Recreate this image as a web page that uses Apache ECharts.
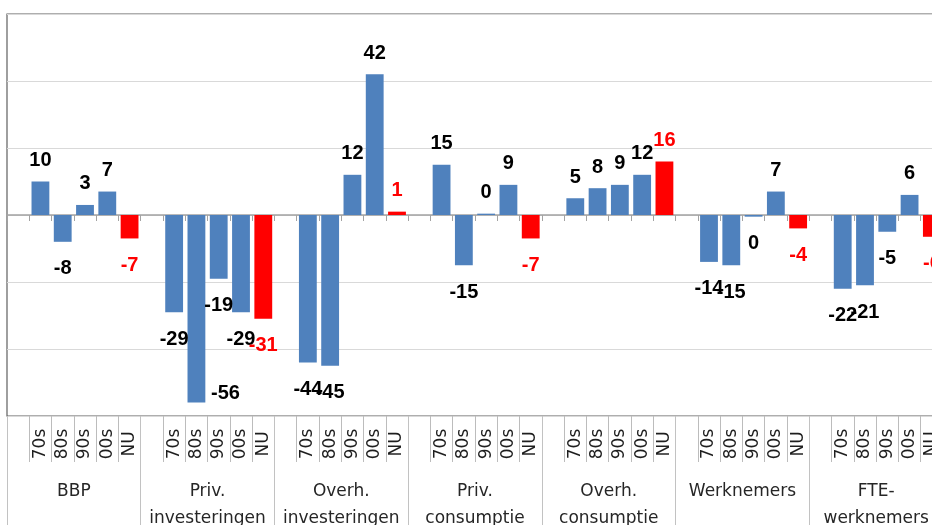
<!DOCTYPE html>
<html>
<head>
<meta charset="utf-8">
<title>Groei per decennium</title>
<script src="https://cdn.jsdelivr.net/npm/echarts@6/dist/echarts.min.js"></script>
<style>
  html, body { margin: 0; padding: 0; background: #fff; }
  #chart { width: 932px; height: 525px; }
</style>
</head>
<body>
<div id="chart"></div>
<script>
// categorieën
const groups = ['BBP', 'Priv.\ninvesteringen', 'Overh.\ninvesteringen', 'Priv.\nconsumptie', 'Overh.\nconsumptie', 'Werknemers', 'FTE-\nwerknemers']
const periods = ['70s', '80s', '90s', '00s', 'NU']

// waarden per groep: 70s, 80s, 90s, 00s, NU
const bbp = [10, -8, 3, 7, -7]
const privInvesteringen = [-29, -56, -19, -29, -31]
const overhInvesteringen = [-44, -45, 12, 42, 1]
const privConsumptie = [15, -15, 0.4, 9, -7]
const overhConsumptie = [5, 8, 9, 12, 16]
const werknemers = [-14, -15, -0.5, 7, -4]
const fteWerknemers = [-22, -21, -5, 6, -6.5]

const yTicks = [-60, -40, -20, 0, 20, 40, 60]

const BLUE = '#4f81bd'
const RED = '#ff0000'

const groupValues = [bbp, privInvesteringen, overhInvesteringen, privConsumptie, overhConsumptie, werknemers, fteWerknemers]

// elke groep begint met een lege kolom
const categories = []
const barData = []
groupValues.forEach((vals, g) => {
  categories.push('')
  barData.push('-')
  vals.forEach((v, i) => {
    const isNu = periods[i] === 'NU'
    categories.push(periods[i])
    const item = {
      value: v,
      itemStyle: { color: isNu ? RED : BLUE },
      label: {
        position: v < 0 ? 'bottom' : 'top',
        distance: v < 0 ? 17 : 11,
        color: isNu ? RED : '#000'
      }
    }
    // -56 past niet onder de balk, label schuift naar rechts
    if (g === 1 && i === 1) item.label.offset = [29, -36]
    barData.push(item)
  })
})

const chart = echarts.init(document.getElementById('chart'))

const catAxisBase = {
  type: 'category',
  gridIndex: 0,
  boundaryGap: true,
  splitLine: { show: false }
}

chart.setOption({
  animation: false,
  backgroundColor: '#fff',
  grid: {
    left: 7,
    top: 14,
    bottom: 109,
    width: 936,
    outerBoundsMode: 'none',
    show: true,
    borderColor: '#5f5f5f',
    borderWidth: 1.2
  },
  xAxis: [
    // periode-labels onderaan
    Object.assign({}, catAxisBase, {
      data: categories,
      position: 'bottom',
      axisLine: { show: false, onZero: false },
      axisTick: { show: true, interval: 0, length: 46, lineStyle: { color: '#bcbcbc' } },
      axisLabel: {
        interval: 0,
        rotate: 90,
        align: 'center',
        verticalAlign: 'middle',
        margin: 28,
        fontFamily: 'DejaVu Sans',
        fontSize: 17,
        color: '#1e1e1e'
      }
    }),
    // as door nul met kleine streepjes
    Object.assign({}, catAxisBase, {
      data: categories,
      position: 'top',
      axisLine: { show: true, onZero: true, lineStyle: { color: '#a3a3a3', width: 1.5 } },
      axisTick: { show: true, inside: true, interval: 0, length: 6, lineStyle: { color: '#a3a3a3' } },
      axisLabel: { show: false }
    }),
    // groepsnamen
    Object.assign({}, catAxisBase, {
      data: groups,
      position: 'bottom',
      axisLine: { show: false, onZero: false },
      axisTick: { show: true, interval: 0, length: 115, lineStyle: { color: '#c2c2c2' } },
      axisLabel: {
        interval: 0,
        verticalAlign: 'top',
        margin: 62,
        lineHeight: 27,
        fontFamily: 'DejaVu Sans',
        fontSize: 17,
        color: '#262626'
      }
    })
  ],
  yAxis: {
    type: 'value',
    min: yTicks[0],
    max: yTicks[yTicks.length - 1],
    interval: yTicks[1] - yTicks[0],
    axisLine: { show: false },
    axisTick: { show: false },
    axisLabel: { show: false },
    splitLine: { lineStyle: { color: '#d9d9d9', width: 1 } }
  },
  series: [
    {
      type: 'bar',
      xAxisIndex: 0,
      data: barData,
      barCategoryGap: '20%',
      label: {
        show: true,
        fontFamily: 'Liberation Sans',
        fontWeight: 'bold',
        fontSize: 20,
        formatter: (p) => String(Math.round(p.value))
      }
    }
  ]
})
</script>
</body>
</html>
